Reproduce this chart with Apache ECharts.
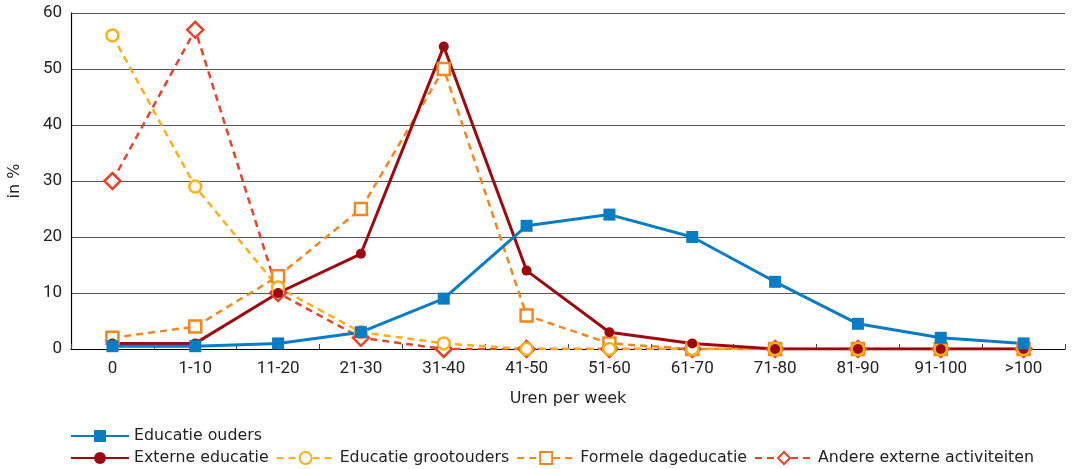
<!DOCTYPE html>
<html>
<head>
<meta charset="utf-8">
<script src="https://cdn.jsdelivr.net/npm/echarts@6/dist/echarts.min.js"></script>
<style>
  html, body { margin: 0; padding: 0; background: #fff; }
  #chart { width: 1077px; height: 469px; }
</style>
</head>
<body>
<div id="chart"></div>
<script>
// Hours per week buckets
const categories = ['0', '1-10', '11-20', '21-30', '31-40', '41-50', '51-60', '61-70', '71-80', '81-90', '91-100', '>100'];

// Share of children (in %) per care type
const educatieOuders = [0.5, 0.5, 1, 3, 9, 22, 24, 20, 12, 4.5, 2, 1];
const externeEducatie = [1, 1, 10, 17, 54, 14, 3, 1, 0, 0, 0, 0];
const educatieGrootouders = [56, 29, 11, 3, 1, 0, 0, 0, 0, 0, 0, 0];
const formeleDageducatie = [2, 4, 13, 25, 50, 6, 1, 0, 0, 0, 0, 0];
const andereExterneActiviteiten = [30, 57, 10, 2, 0, 0, 0, 0, 0, 0, 0, 0];

const yTicks = [0, 10, 20, 30, 40, 50, 60];

const TICK_FONT = 'Roboto, "Noto Sans", sans-serif';
const TEXT_FONT = '"DejaVu Sans", "Noto Sans", sans-serif';
const TEXT_COLOR = '#222';

const chart = echarts.init(document.getElementById('chart'), null, { renderer: 'canvas' });

function dashedSeries(name, data, color, symbol, size) {
  return {
    name, type: 'line', data,
    symbol, symbolSize: size,
    showAllSymbol: true,
    lineStyle: { color, width: 2.5, type: [7, 5] },
    itemStyle: { color: '#fff', borderColor: color, borderWidth: 2.5 },
    emphasis: { disabled: true }
  };
}

const legendText = { fontFamily: TEXT_FONT, fontSize: 15.8, color: TEXT_COLOR };

chart.setOption({
  animation: false,
  textStyle: { fontFamily: TICK_FONT },
  grid: { left: 71, right: 12, top: 13, bottom: 120, containLabel: false, outerBoundsMode: 'none' },
  legend: [
    {
      data: ['Educatie ouders'],
      left: 70, top: 428, padding: 0,
      itemWidth: 58, itemHeight: 15, itemGap: 7,
      textStyle: legendText
    },
    {
      data: ['Externe educatie', 'Educatie grootouders', 'Formele dageducatie', 'Andere externe activiteiten'],
      left: 70, top: 450, padding: 0,
      itemWidth: 58, itemHeight: 15, itemGap: 7,
      textStyle: legendText
    }
  ],
  xAxis: {
    type: 'category',
    data: categories,
    boundaryGap: true,
    name: 'Uren per week',
    nameLocation: 'middle',
    nameGap: 42,
    nameTextStyle: { fontFamily: TEXT_FONT, fontSize: 16, color: TEXT_COLOR },
    axisLine: { lineStyle: { color: '#000', width: 1.2 } },
    axisTick: { show: true, inside: true, length: 5, lineStyle: { color: '#444' } },
    axisLabel: { fontFamily: TICK_FONT, fontSize: 17, color: TEXT_COLOR, margin: 11 },
    splitLine: { show: false }
  },
  yAxis: {
    type: 'value',
    min: yTicks[0], max: yTicks[yTicks.length - 1], interval: 10,
    name: 'in %',
    nameLocation: 'middle',
    nameGap: 48,
    nameRotate: 90,
    nameTextStyle: { fontFamily: TEXT_FONT, fontSize: 16, color: TEXT_COLOR },
    axisLine: { show: true, lineStyle: { color: '#000', width: 1.2 } },
    axisTick: { show: false },
    axisLabel: { fontFamily: TICK_FONT, fontSize: 17, color: TEXT_COLOR, margin: 9 },
    splitLine: { show: true, lineStyle: { color: '#555', width: 1.2 } }
  },
  series: [
    dashedSeries('Andere externe activiteiten', andereExterneActiviteiten, '#e8432d', 'diamond', 16),
    dashedSeries('Formele dageducatie', formeleDageducatie, '#f5861f', 'rect', 12),
    dashedSeries('Educatie grootouders', educatieGrootouders, '#fbb019', 'circle', 12),
    {
      name: 'Externe educatie', type: 'line', data: externeEducatie,
      symbol: 'circle', symbolSize: 10, showAllSymbol: true,
      lineStyle: { color: '#9c0a10', width: 3 },
      itemStyle: { color: '#9c0a10' },
      emphasis: { disabled: true }
    },
    {
      name: 'Educatie ouders', type: 'line', data: educatieOuders,
      symbol: 'rect', symbolSize: 12, showAllSymbol: true,
      lineStyle: { color: '#0a7cc4', width: 3 },
      itemStyle: { color: '#0a7cc4' },
      emphasis: { disabled: true }
    }
  ]
});
</script>
</body>
</html>
